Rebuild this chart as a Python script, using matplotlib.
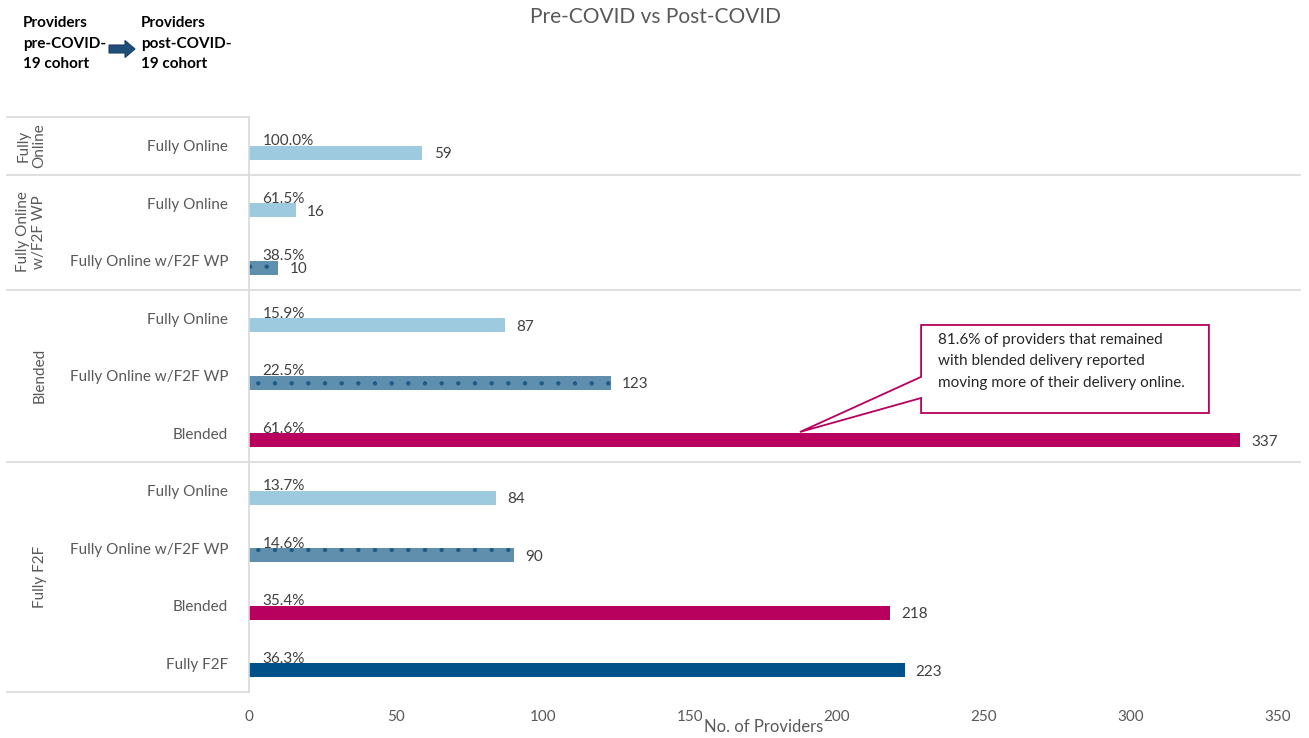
import matplotlib
matplotlib.use('Agg')
import matplotlib.pyplot as plt
import matplotlib.patches as mpatches

plt.rcParams['font.family'] = ['Lato', 'DejaVu Sans']
plt.rcParams['hatch.linewidth'] = 0.7

# data: pre-COVID cohort -> post-COVID delivery
groups = ['Fully\nOnline', 'Fully Online\nw/F2F WP', 'Blended', 'Fully F2F']
group_sizes = [1, 2, 3, 4]
post_labels = ['Fully Online',
               'Fully Online', 'Fully Online w/F2F WP',
               'Fully Online', 'Fully Online w/F2F WP', 'Blended',
               'Fully Online', 'Fully Online w/F2F WP', 'Blended', 'Fully F2F']
counts = [59, 16, 10, 87, 123, 337, 84, 90, 218, 223]
shares = [100.0, 61.5, 38.5, 15.9, 22.5, 61.6, 13.7, 14.6, 35.4, 36.3]
xticks = [0, 50, 100, 150, 200, 250, 300, 350]

colors = {
    'Fully Online': '#9ECADF',
    'Fully Online w/F2F WP': '#608FAE',
    'Blended': '#B8005F',
    'Fully F2F': '#00508A',
}
grey = '#595959'
txt = '#404040'

fig = plt.figure(figsize=(13.09, 7.38), dpi=100)
ax = fig.add_axes([249/1309, 1 - 692/738, 1029/1309, 575/738])

n = len(counts)
for i, (lab, c, s) in enumerate(zip(post_labels, counts, shares)):
    yc = i + 0.5
    if lab == 'Fully Online w/F2F WP':
        ax.barh(yc + 0.125, c, height=0.245, color=colors[lab],
                edgecolor='#1F5A85', linewidth=0, hatch='.')
    else:
        ax.barh(yc + 0.125, c, height=0.245, color=colors[lab], linewidth=0)
    ax.text(4.6, yc - 0.08, f'{s:.1f}%', ha='left', va='center',
            fontsize=11, color=txt)
    ax.text(c + 3.8, yc + 0.15, str(c), ha='left', va='center',
            fontsize=11, color=txt)

ax.set_xlim(0, 350)
ax.set_ylim(n, 0)
ax.set_xticks(xticks)
ax.set_yticks([i + 0.5 for i in range(n)])
ax.set_yticklabels(post_labels)
ax.tick_params(axis='y', length=0, pad=15, labelsize=11, labelcolor=grey)
ax.tick_params(axis='x', length=0, pad=13, labelsize=11, labelcolor=grey)
for side in ['top', 'right', 'bottom']:
    ax.spines[side].set_visible(False)
ax.spines['left'].set_color('#D9D9D9')
ax.spines['left'].set_linewidth(1.2)

ax.set_xlabel('No. of Providers', fontsize=12, color=grey)
ax.xaxis.set_label_coords(0.5, -0.061)
ax.xaxis.label.set_verticalalignment('center')

# group table on the left
tr = ax.get_yaxis_transform()
left = -242 / 1029
right = 1 + 22 / 1029
ax.plot([left, 0], [0, 0], transform=tr, color='#D9D9D9', lw=1.2, clip_on=False)
ax.plot([left, 0], [n, n], transform=tr, color='#D9D9D9', lw=1.2, clip_on=False)
start = 0
group_x = [31, 31, 40, 40]
for g, size, gx in zip(groups, group_sizes, group_x):
    if start > 0:
        ax.plot([left, right], [start, start], transform=tr, color='#D9D9D9',
                lw=1.2, clip_on=False)
    ax.text((gx - 249) / 1029, start + size / 2, g, transform=tr, rotation=90,
            ha='center', va='center', fontsize=11, color=grey,
            multialignment='center', linespacing=1.15)
    start += size

# callout
x0, x1 = 228.6, 326.5
y0, y1 = 3.617, 5.148
callout = mpatches.Polygon([(x0, y0), (x1, y0), (x1, y1), (x0, y1),
                            (x0, 4.887), (187.4, 5.478), (x0, 4.52)],
                           closed=True, facecolor='white', edgecolor='#B8005F',
                           linewidth=1.3, clip_on=False, zorder=5)
ax.add_patch(callout)
ax.text(234.5, 3.76, '81.6% of providers that remained\nwith blended delivery reported\n'
        'moving more of their delivery online.', ha='left', va='top',
        fontsize=11, color='#262626', linespacing=1.65, zorder=6)

# title and header
fig.text(655 / 1309, 1 - 17 / 738, 'Pre-COVID vs Post-COVID', ha='center',
         va='center', fontsize=15, color=grey)
fig.text(23 / 1309, 1 - 16 / 738, 'Providers\npre-COVID-\n19 cohort', ha='left',
         va='top', fontsize=11, fontweight='bold', color='black', linespacing=1.6)
fig.text(141 / 1309, 1 - 16 / 738, 'Providers\npost-COVID-\n19 cohort', ha='left',
         va='top', fontsize=11, fontweight='bold', color='black', linespacing=1.6)
arrow = mpatches.FancyArrow(1.09, 7.38 - 0.49, 0.16, 0, width=0.08,
                            head_width=0.17, head_length=0.1,
                            length_includes_head=False,
                            facecolor='#1F4E79', edgecolor='#1A3F66', lw=0.8,
                            transform=fig.dpi_scale_trans)
fig.patches.append(arrow)

fig.savefig('out.png', dpi=100, facecolor='white')
